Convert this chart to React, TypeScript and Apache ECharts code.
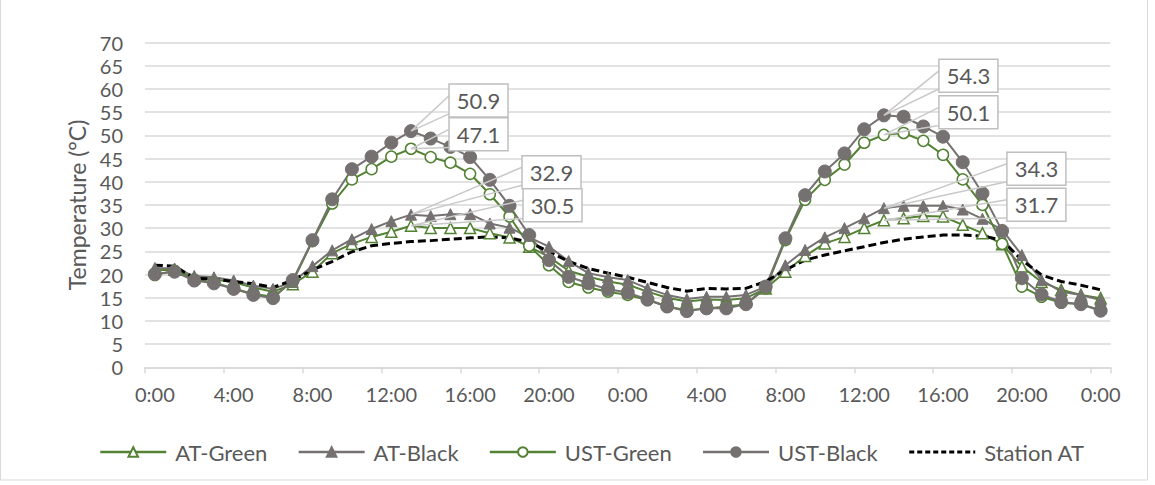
import React, { useEffect, useRef } from "react";
import * as echarts from "echarts";

const hours = [
  "0:00", "1:00", "2:00", "3:00", "4:00", "5:00", "6:00", "7:00", "8:00", "9:00", "10:00", "11:00",
  "12:00", "13:00", "14:00", "15:00", "16:00", "17:00", "18:00", "19:00", "20:00", "21:00", "22:00", "23:00",
  "0:00", "1:00", "2:00", "3:00", "4:00", "5:00", "6:00", "7:00", "8:00", "9:00", "10:00", "11:00",
  "12:00", "13:00", "14:00", "15:00", "16:00", "17:00", "18:00", "19:00", "20:00", "21:00", "22:00", "23:00",
  "0:00",
];

const atGreen = [
  20.9, 21.0, 19.3, 19.0, 18.3, 17.2, 16.3, 17.9, 20.6, 24.6, 26.6, 28.1,
  29.2, 30.5, 30.0, 30.0, 30.0, 28.9, 28.0, 26.0, 23.8, 20.8, 19.5, 18.5,
  17.8, 16.3, 15.0, 14.2, 14.6, 14.5, 14.9, 17.0, 20.6, 24.0, 26.7, 28.1,
  30.0, 31.7, 32.1, 32.6, 32.5, 30.7, 28.9, 26.5, 21.7, 18.4, 16.7, 15.6,
  14.9,
];
const atBlack = [
  21.4, 21.3, 19.7, 19.4, 18.7, 17.6, 16.9, 18.4, 21.8, 25.2, 27.6, 29.8,
  31.5, 32.9, 32.6, 33.0, 33.0, 31.0, 30.1, 28.0, 26.0, 22.9, 20.3, 19.4,
  18.8, 17.0, 15.6, 14.7, 15.2, 15.2, 15.6, 17.4, 22.0, 25.3, 28.0, 30.0,
  32.1, 34.3, 34.8, 34.8, 34.8, 34.0, 32.0, 29.6, 24.2, 18.8, 16.3, 15.6,
  14.5,
];
const ustGreen = [
  19.9, 20.8, 18.9, 18.3, 17.0, 15.8, 15.2, 18.5, 27.2, 35.3, 40.5, 42.7,
  45.4, 47.1, 45.3, 44.1, 41.7, 37.3, 32.5, 26.2, 22.0, 18.4, 17.2, 16.3,
  15.6, 14.5, 13.1, 12.3, 12.7, 13.1, 13.6, 17.0, 27.4, 36.1, 40.4, 43.7,
  48.4, 50.1, 50.5, 48.8, 45.8, 40.5, 35.0, 26.6, 17.4, 15.2, 13.9, 13.6,
  12.3,
];
const ustBlack = [
  20.1, 20.6, 18.7, 18.1, 16.9, 15.6, 14.9, 18.8, 27.4, 36.2, 42.7, 45.4,
  48.4, 50.9, 49.3, 47.5, 45.3, 40.4, 34.8, 28.5, 23.1, 19.5, 18.1, 16.8,
  16.1, 14.6, 13.1, 12.1, 12.7, 12.7, 13.6, 17.4, 27.8, 37.1, 42.2, 46.1,
  51.3, 54.3, 54.0, 51.9, 49.7, 44.2, 37.5, 29.4, 19.2, 15.7, 14.1, 13.6,
  12.2,
];
const stationAT = [
  22.0, 21.8, 19.2, 19.0, 18.5, 18.0, 17.2, 18.8, 21.0, 22.8, 24.9, 26.2,
  26.7, 27.1, 27.3, 27.6, 27.9, 28.1, 27.9, 27.0, 24.9, 22.8, 21.3, 20.3,
  19.4, 18.3, 17.2, 16.4, 17.0, 16.9, 17.0, 18.5, 21.0, 23.1, 24.2, 25.1,
  26.0, 26.9, 27.6, 28.1, 28.5, 28.5, 28.3, 27.4, 23.1, 19.9, 18.5, 17.7,
  16.7,
];

const seriesNames = ["AT-Green", "AT-Black", "UST-Green", "UST-Black", "Station AT"];
const yTicks = { min: 0, max: 70, interval: 5 };

// Callouts: which series / which hour index is labelled
const calloutSeries = [3, 2, 1, 0, 3, 2, 1, 0];
const calloutIndex = [13, 13, 13, 13, 37, 37, 37, 37];
// Layout of the callout boxes (offset from the labelled point, px)
const calloutOffset = [
  [38, -47], [38, -31], [111, -59], [112, -37],
  [55, -56], [55, -39], [123, -56], [123, -32],
];

const GREEN = "#548235";
const GREY = "#767171";
const TEXT = "#595959";
const FONT = "Lato, 'Noto Sans', sans-serif";

export default function App() {
  const ref = useRef<HTMLDivElement>(null);
  useEffect(() => {
    if (!ref.current) return;
    const chart = echarts.init(ref.current, null, { renderer: "svg" });
    const all = [atGreen, atBlack, ustGreen, ustBlack, stationAT];
    chart.setOption({
      animation: false,
      backgroundColor: "#ffffff",
      textStyle: { fontFamily: FONT },
      grid: { left: 145, right: 44.5, top: 42.5, bottom: 117.7, containLabel: false },
      legend: {
        left: 94,
        top: 436,
        itemWidth: 66,
        itemHeight: 12,
        itemGap: 30,
        textStyle: { fontSize: 22, color: TEXT, fontFamily: FONT, padding: [0, 0, 0, 4] },
        data: [
          { name: seriesNames[0], lineStyle: { width: 2.5 } },
          { name: seriesNames[1], lineStyle: { width: 2.5 } },
          { name: seriesNames[2], lineStyle: { width: 2.5 } },
          { name: seriesNames[3], lineStyle: { width: 2.5 } },
          {
            name: seriesNames[4],
            itemStyle: { color: "rgba(0,0,0,0)", borderColor: "rgba(0,0,0,0)", borderWidth: 0 },
            lineStyle: { width: 3, type: [5, 3] },
          },
        ],
      },
      xAxis: {
        type: "category",
        data: hours,
        boundaryGap: true,
        axisLine: { lineStyle: { color: "#d9d9d9", width: 1.5 } },
        axisTick: { show: true, interval: 3, length: 6, lineStyle: { color: "#d9d9d9", width: 1.5 } },
        axisLabel: { interval: 3, fontSize: 20, color: TEXT, margin: 17, fontFamily: FONT },
        splitLine: { show: false },
      },
      yAxis: {
        type: "value",
        min: yTicks.min,
        max: yTicks.max,
        interval: yTicks.interval,
        axisLine: { show: false },
        axisTick: { show: false },
        axisLabel: { fontSize: 20, color: TEXT, margin: 22, fontFamily: FONT },
        splitLine: { lineStyle: { color: "#d9d9d9", width: 1.5 } },
        name: "Temperature (°C)",
        nameLocation: "middle",
        nameGap: 56,
        nameTextStyle: { fontSize: 23, color: TEXT, fontFamily: FONT },
      },
      series: [
        {
          name: seriesNames[0], type: "line", data: atGreen,
          symbol: "triangle", symbolSize: 11,
          itemStyle: { color: "#ffffff", borderColor: GREEN, borderWidth: 1.5 },
          lineStyle: { color: GREEN, width: 2 },
        },
        {
          name: seriesNames[1], type: "line", data: atBlack,
          symbol: "triangle", symbolSize: 11,
          itemStyle: { color: GREY, borderColor: GREY, borderWidth: 1 },
          lineStyle: { color: GREY, width: 2 },
        },
        {
          name: seriesNames[2], type: "line", data: ustGreen,
          symbol: "circle", symbolSize: 11,
          itemStyle: { color: "#ffffff", borderColor: GREEN, borderWidth: 1.5 },
          lineStyle: { color: GREEN, width: 2 },
        },
        {
          name: seriesNames[3], type: "line", data: ustBlack,
          symbol: "circle", symbolSize: 13,
          itemStyle: { color: GREY, borderColor: GREY, borderWidth: 1 },
          lineStyle: { color: GREY, width: 2 },
        },
        {
          name: seriesNames[4], type: "line", data: stationAT,
          symbol: "none", smooth: false,
          itemStyle: { color: "#000000" },
          lineStyle: { color: "#000000", width: 3, type: [8, 4] },
        },
      ],
    });

    const g: any[] = [
      {
        type: "rect", silent: true, z: 0,
        shape: { x: 0.5, y: -1, width: 1147, height: 481 },
        style: { fill: "none", stroke: "#d9d9d9", lineWidth: 1 },
      },
    ];
    const w = 59, h = 33;
    calloutSeries.forEach((s, k) => {
      const idx = calloutIndex[k];
      const val = all[s][idx];
      const p = chart.convertToPixel({ gridIndex: 0 }, [idx, val]) as number[];
      const bx = p[0] + calloutOffset[k][0];
      const by = p[1] + calloutOffset[k][1];
      g.push({
        type: "polyline", silent: true, z: 100,
        shape: { points: [[bx, by + h * 0.35], [p[0], p[1]], [bx, by + h * 0.9]] },
        style: { fill: "none", stroke: "#c9c9c9", lineWidth: 1.5 },
      });
      g.push({
        type: "rect", silent: true, z: 101,
        shape: { x: bx, y: by, width: w, height: h },
        style: { fill: "#ffffff", stroke: "#bfbfbf", lineWidth: 1.5 },
      });
      g.push({
        type: "text", silent: true, z: 102,
        x: bx + w / 2, y: by + h / 2,
        style: {
          text: val.toFixed(1), fontSize: 22, fill: TEXT, fontFamily: FONT,
          align: "center", verticalAlign: "middle",
        },
      });
    });
    chart.setOption({ graphic: g });

    return () => chart.dispose();
  }, []);
  return (
    <div
      ref={ref}
      style={{ position: "absolute", left: 0, top: 0, width: 1155, height: 485 }}
    />
  );
}
